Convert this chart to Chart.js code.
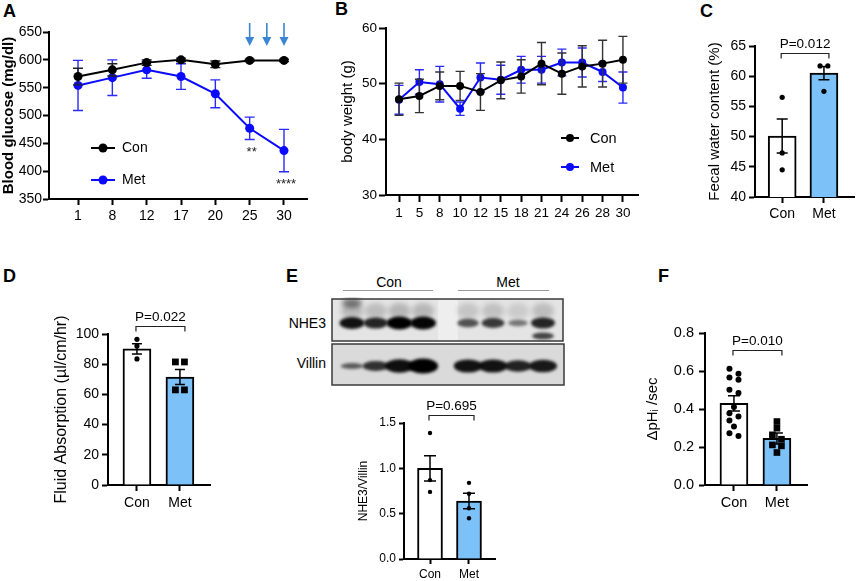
<!DOCTYPE html>
<html>
<head>
<meta charset="utf-8">
<script src="https://cdn.jsdelivr.net/npm/chart.js@4.4.0/dist/chart.umd.min.js"></script>
<style>
  html, body { margin: 0; padding: 0; background: #fff; }
  body { width: 858px; height: 581px; position: relative; overflow: hidden;
         font-family: 'Liberation Sans', Arial, sans-serif; color: #000; }
  .letter { position: absolute; font-weight: bold; font-size: 18px; line-height: 18px; }
  .txt { position: absolute; font-size: 14px; line-height: 16px; white-space: nowrap; }
  .rule { position: absolute; height: 0; border-top: 1.5px solid #9a9a9a; }
  #blot { position: absolute; left: 330px; top: 297px; }
</style>
</head>
<body>
<div class="letter" style="left:3px;top:2px">A</div>
<div class="letter" style="left:335px;top:0px">B</div>
<div class="letter" style="left:700px;top:2px">C</div>
<div class="letter" style="left:3px;top:267px">D</div>
<div class="letter" style="left:286px;top:267px">E</div>
<div class="letter" style="left:658px;top:267px">F</div>

<div class="txt" style="left:359px;top:274px;width:60px;text-align:center">Con</div>
<div class="rule" style="left:343px;top:290px;width:90px"></div>
<div class="txt" style="left:478px;top:274px;width:60px;text-align:center">Met</div>
<div class="rule" style="left:458px;top:290px;width:91px"></div>
<div class="txt" style="right:532px;top:315px">NHE3</div>
<div class="txt" style="right:532px;top:355px">Villin</div>
<canvas id="blot" width="236" height="92"></canvas>

<script>
// ── data ──────────────────────────────────────────────────────────────────────
// A: blood glucose
const glucoseDays   = ['1', '8', '12', '17', '20', '25', '30'];
const glucoseCon    = [570, 582, 595, 600, 592, 599, 599];
const glucoseConErr = [15, 11, 5, 3, 6, 2, 2];
const glucoseMet    = [554, 568, 582, 570, 539, 477, 437];
const glucoseMetErr = [45, 32, 15, 23, 25, 20, 38];
const glucoseStars  = ['', '', '', '', '', '**', '****'];
const metforminDays = [25, 27.5, 30];

// B: body weight
const weightDays   = ['1', '5', '8', '10', '12', '15', '18', '21', '24', '26', '28', '30'];
const weightCon    = [47.2, 47.8, 49.6, 49.6, 48.5, 50.6, 51.3, 53.6, 51.8, 53.1, 53.6, 54.3];
const weightConErr = [2.9, 3.0, 2.5, 2.6, 3.3, 3.3, 3.0, 3.8, 3.7, 3.7, 4.2, 4.2];
const weightMet    = [47.1, 50.3, 49.9, 45.5, 51.1, 50.7, 52.5, 52.5, 53.8, 53.8, 52.1, 49.3];
const weightMetErr = [2.6, 2.2, 3.2, 1.2, 2.6, 2.6, 2.4, 2.4, 2.4, 2.6, 1.7, 2.8];

const groups = ['Con', 'Met'];

// C: fecal water content
const fecalMean = [50.1, 60.5];
const fecalSem  = [2.8, 1.1];
const fecalCon  = [56.5, 47.3, 44.5];
const fecalMet  = [61.7, 61.7, 57.5];

// D: fluid absorption
const fluidMean = [90.2, 71.5];
const fluidSem  = [3.4, 5.0];
const fluidCon  = [96.5, 92.0, 83.5];
const fluidMet  = [81.5, 81.5, 63.0, 63.0];

// E: NHE3 / Villin
const nheMean = [1.0, 0.64];
const nheSem  = [0.14, 0.085];
const nheCon  = [1.39, 0.87, 0.74];
const nheMet  = [0.84, 0.72, 0.56, 0.45];
const nhe3Signal   = [0.88, 0.75, 1.0, 0.97, 0.45, 0.62, 0.2, 0.75];
const villinSignal = [0.25, 0.6, 0.88, 1.0, 0.85, 0.85, 0.72, 0.8];

// F: dpHi/sec
const phMean = [0.43, 0.245];
const phSem  = [0.04, 0.029];
const phCon  = [0.612, 0.586, 0.566, 0.554, 0.501, 0.484, 0.41, 0.378, 0.36, 0.34, 0.308, 0.273, 0.258];
const phMet  = [0.334, 0.299, 0.264, 0.241, 0.211, 0.206, 0.171];

const pValues = { fecal: 'P=0.012', fluid: 'P=0.022', nhe: 'P=0.695', ph: 'P=0.010' };

// ── setup ─────────────────────────────────────────────────────────────────────
const FONT = "'Liberation Sans', Arial, sans-serif";
const BLUE = '#0a0aff';
const BAR_FILL = ['#ffffff', '#7cc1f8'];
Chart.defaults.font.family = FONT;
Chart.defaults.color = '#000';
Chart.defaults.animation = false;
Chart.defaults.events = [];
Chart.defaults.plugins.legend.display = false;
Chart.defaults.plugins.tooltip.enabled = false;

// ── plugins ───────────────────────────────────────────────────────────────────
function drawErrors(chart, index, layer) {
  const ds = chart.data.datasets[index];
  if (!ds.errors || (ds.errorLayer || 'under') !== layer) return;
  const { ctx, scales: { y } } = chart;
  const meta = chart.getDatasetMeta(index);
  const cap = ds.errorCap ?? 5;
  ctx.save();
  ctx.strokeStyle = ds.errorColor || '#000';
  ctx.lineWidth = ds.errorWidth || 1.5;
  meta.data.forEach((el, i) => {
    const v = ds.data[i].y, e = ds.errors[i];
    const hi = y.getPixelForValue(v + e), lo = y.getPixelForValue(v - e);
    ctx.beginPath();
    ctx.moveTo(el.x, hi); ctx.lineTo(el.x, lo);
    ctx.moveTo(el.x - cap, hi); ctx.lineTo(el.x + cap, hi);
    ctx.moveTo(el.x - cap, lo); ctx.lineTo(el.x + cap, lo);
    ctx.stroke();
  });
  ctx.restore();
}

const errorBars = {
  id: 'errorBars',
  beforeDatasetDraw(chart, args) { drawErrors(chart, args.index, 'under'); },
  afterDatasetDraw(chart, args)  { drawErrors(chart, args.index, 'over'); },
};

const inlineLegend = {
  id: 'inlineLegend',
  afterDraw(chart, args, o) {
    if (!o || o.x == null) return;
    const { ctx, chartArea } = chart;
    ctx.save();
    chart.data.datasets.forEach((ds, i) => {
      const x = chartArea.left + o.x, y = chartArea.top + o.y + i * o.gap;
      ctx.strokeStyle = ds.borderColor; ctx.lineWidth = 2;
      ctx.beginPath(); ctx.moveTo(x, y); ctx.lineTo(x + o.len, y); ctx.stroke();
      ctx.fillStyle = ds.pointBackgroundColor;
      ctx.beginPath(); ctx.arc(x + o.len / 2, y, ds.pointRadius, 0, Math.PI * 2); ctx.fill();
      ctx.fillStyle = '#000';
      ctx.font = `${o.font}px ${FONT}`;
      ctx.textBaseline = 'middle';
      ctx.fillText(ds.label, x + o.len + o.textGap, y + 0.5);
    });
    ctx.restore();
  },
};

const pBracket = {
  id: 'pBracket',
  afterDraw(chart, args, o) {
    if (!o || !o.text) return;
    const { ctx, scales: { x, y } } = chart;
    const x0 = x.getPixelForValue(0) - 1, x1 = x.getPixelForValue(1) + 5;
    const yb = Math.round(y.getPixelForValue(o.at)) + 0.5;
    ctx.save();
    ctx.strokeStyle = '#222'; ctx.lineWidth = 1.2;
    ctx.beginPath();
    ctx.moveTo(x0, yb + 5); ctx.lineTo(x0, yb); ctx.lineTo(x1, yb); ctx.lineTo(x1, yb + 5);
    ctx.stroke();
    ctx.fillStyle = '#000';
    ctx.font = `${o.font}px ${FONT}`;
    ctx.textAlign = 'center'; ctx.textBaseline = 'alphabetic';
    ctx.fillText(o.text, (x0 + x1) / 2, yb - 6);
    ctx.restore();
  },
};

// day number -> position on the evenly spaced glucose axis
function dayToIndex(d) {
  const days = glucoseDays.map(Number);
  for (let i = 0; i < days.length - 1; i++) {
    if (d >= days[i] && d <= days[i + 1]) return i + (d - days[i]) / (days[i + 1] - days[i]);
  }
  return days.length - 1;
}

const glucoseMarks = {
  id: 'glucoseMarks',
  afterDraw(chart) {
    const { ctx, chartArea, scales: { x, y } } = chart;
    ctx.save();
    ctx.fillStyle = '#222';
    ctx.font = `13px ${FONT}`;
    ctx.textAlign = 'center'; ctx.textBaseline = 'top';
    glucoseStars.forEach((s, i) => {
      if (!s) return;
      ctx.fillText(s, x.getPixelForValue(i) + 2, y.getPixelForValue(glucoseMet[i] - glucoseMetErr[i]) + 6);
    });
    ctx.strokeStyle = '#3a86d4'; ctx.fillStyle = '#3a86d4'; ctx.lineWidth = 1.6;
    metforminDays.forEach(d => {
      const px = x.getPixelForValue(dayToIndex(d));
      const top = chartArea.top - 9, tip = chartArea.top + 14;
      ctx.beginPath(); ctx.moveTo(px, top); ctx.lineTo(px, tip - 6); ctx.stroke();
      ctx.beginPath(); ctx.moveTo(px - 4.5, tip - 9); ctx.lineTo(px + 4.5, tip - 9); ctx.lineTo(px, tip); ctx.closePath(); ctx.fill();
    });
    ctx.restore();
  },
};

// ── layout helpers ───────────────────────────────────────────────────────────
function mountCanvas(box) {
  const c = document.createElement('canvas');
  c.width = box.w; c.height = box.h;
  Object.assign(c.style, { position: 'absolute', left: box.l + 'px', top: box.t + 'px',
    width: box.w + 'px', height: box.h + 'px' });
  document.body.appendChild(c);
  return c;
}

// axes styled like the figure, sized so the plot frame lands where it is in the picture
function frameAxes(box, area, o) {
  const axisLine = { color: '#000', width: 2 };
  const y = {
    type: 'linear', min: o.yMin, max: o.yMax, beginAtZero: false,
    afterFit: s => { s.width = area.l - box.l; },
    border: axisLine,
    grid: { drawOnChartArea: false, tickLength: o.tick, tickWidth: 2, tickColor: '#000' },
    ticks: { stepSize: o.yStep, font: { size: o.tickFont }, padding: o.yPad, color: '#000',
             callback: o.yFmt || (v => v) },
    title: { display: true, text: o.title, color: '#000',
             font: { size: o.titleFont, weight: o.titleBold ? 'bold' : 'normal' },
             padding: { top: Math.max(0, o.titleCx - box.l - o.titleFont * 0.6), bottom: 0 } },
  };
  const x = {
    type: 'linear', min: o.xMin, max: o.xMax, offset: false,
    afterFit: s => { s.height = box.t + box.h - area.b; },
    afterBuildTicks: s => { s.ticks = o.xLabels.map((_, i) => ({ value: i })); },
    border: axisLine,
    grid: { drawOnChartArea: false, offset: false, tickLength: o.tick, tickWidth: 2, tickColor: '#000' },
    ticks: { font: { size: o.xFont || o.tickFont }, padding: o.xPad, color: '#000', autoSkip: false,
             maxRotation: 0, minRotation: 0, callback: v => o.xLabels[Math.round(v)] ?? '' },
  };
  const layout = { padding: { left: 0, top: area.t - box.t, right: box.l + box.w - area.r, bottom: 0 } };
  return { x, y, layout };
}

// spread points that would overlap side to side, as the scatter-on-bar plots do
function swarm(values, gx, thr, spread) {
  const sorted = values.slice().sort((a, b) => b - a);
  const out = [];
  let cluster = [];
  const flush = () => {
    cluster.forEach((v, k) => out.push({ x: gx + (cluster.length === 1 ? 0 : (k % 2 ? spread : -spread)), y: v }));
    cluster = [];
  };
  sorted.forEach(v => {
    if (cluster.length && cluster[cluster.length - 1] - v >= thr) flush();
    cluster.push(v);
  });
  flush();
  return out;
}

function linePanel(box, area, o, series) {
  const ax = frameAxes(box, area, o);
  const datasets = series.map(s => ({
    type: 'line', label: s.label,
    data: s.values.map((v, i) => ({ x: i, y: v })),
    borderColor: s.color, backgroundColor: s.color,
    pointBackgroundColor: s.color, pointBorderColor: s.color, pointBorderWidth: 0,
    pointRadius: o.dotR, borderWidth: 2, tension: 0,
    errors: s.errors, errorColor: s.errColor, errorCap: o.cap, errorWidth: 1.4, errorLayer: 'under',
  }));
  return new Chart(mountCanvas(box), {
    type: 'line',
    data: { datasets },
    options: { responsive: false, layout: ax.layout, scales: { x: ax.x, y: ax.y },
               plugins: { inlineLegend: o.legend } },
    plugins: [errorBars, inlineLegend].concat(o.extra || []),
  });
}

function barPanel(box, area, o) {
  const ax = frameAxes(box, area, o);
  const dots = o.points.map((vals, g) => ({
    type: 'scatter', order: 1,
    data: swarm(vals, g, o.thr, o.spread),
    pointStyle: o.dotStyle[g], pointRadius: o.dotR[g],
    pointBackgroundColor: '#000', pointBorderColor: '#000', pointBorderWidth: 0,
  }));
  const bars = {
    type: 'bar', order: 2,
    data: o.means.map((m, i) => ({ x: i, y: m })),
    backgroundColor: BAR_FILL, borderColor: '#000', borderWidth: 2, borderSkipped: 'start',
    barThickness: o.barPx,
    errors: o.sems, errorLayer: 'over', errorCap: o.cap, errorWidth: 1.5, errorColor: '#000',
  };
  return new Chart(mountCanvas(box), {
    type: 'bar',
    data: { datasets: [...dots, bars] },
    options: { responsive: false, layout: ax.layout, scales: { x: ax.x, y: ax.y },
               plugins: { pBracket: { text: o.pText, at: o.pAt, font: 13.5 } } },
    plugins: [errorBars, pBracket],
  });
}

// ── A ────────────────────────────────────────────────────────────────────────
linePanel({ l: 0, t: 0, w: 322, h: 232 }, { l: 49, t: 32, r: 307, b: 199 }, {
  yMin: 350, yMax: 650, yStep: 50, xMin: -0.845, xMax: 6.67, xLabels: glucoseDays,
  tick: 6, tickFont: 14, yPad: 1, xPad: 3,
  title: 'Blood glucose (mg/dl)', titleFont: 15, titleBold: true, titleCx: 9,
  dotR: 4.5, cap: 5,
  legend: { x: 42, y: 116, gap: 32, len: 24, textGap: 7, font: 14 },
  extra: [glucoseMarks],
}, [
  { label: 'Con', values: glucoseCon, errors: glucoseConErr, color: '#000', errColor: '#222' },
  { label: 'Met', values: glucoseMet, errors: glucoseMetErr, color: BLUE, errColor: '#2a2aff' },
]);

// ── B ────────────────────────────────────────────────────────────────────────
linePanel({ l: 322, t: 0, w: 325, h: 232 }, { l: 386, t: 28, r: 638, b: 195 }, {
  yMin: 30, yMax: 60, yStep: 10, xMin: -0.64, xMax: 11.74, xLabels: weightDays,
  tick: 7, tickFont: 13.5, yPad: 2, xPad: 3,
  title: 'body weight (g)', titleFont: 15, titleCx: 348,
  dotR: 4, cap: 4.5,
  legend: { x: 175, y: 110, gap: 29, len: 18, textGap: 11, font: 14.5 },
}, [
  { label: 'Con', values: weightCon, errors: weightConErr, color: '#000', errColor: '#333' },
  { label: 'Met', values: weightMet, errors: weightMetErr, color: BLUE, errColor: '#2a2aff' },
]);

// ── C ────────────────────────────────────────────────────────────────────────
barPanel({ l: 700, t: 0, w: 158, h: 232 }, { l: 755, t: 46, r: 857, b: 197 }, {
  yMin: 40, yMax: 65, yStep: 5, xMin: -0.651, xMax: 1.72, xLabels: groups,
  tick: 6, tickFont: 14, yPad: 3, xPad: 3,
  title: 'Fecal water content (%)', titleFont: 15, titleCx: 715,
  means: fecalMean, sems: fecalSem, points: [fecalCon, fecalMet],
  dotStyle: ['circle', 'circle'], dotR: [2.6, 2.6], thr: 1.0, spread: 0.093,
  barPx: 28, cap: 5.5, pText: pValues.fecal, pAt: 63.8,
});

// ── D ────────────────────────────────────────────────────────────────────────
barPanel({ l: 45, t: 290, w: 180, h: 225 }, { l: 108, t: 334, r: 210, b: 485 }, {
  yMin: 0, yMax: 100, yStep: 20, xMin: -0.674, xMax: 1.70, xLabels: groups,
  tick: 6, tickFont: 14, yPad: 3, xPad: 4,
  title: 'Fluid Absorption (µl/cm/hr)', titleFont: 16, titleCx: 62,
  means: fluidMean, sems: fluidSem, points: [fluidCon, fluidMet],
  dotStyle: ['circle', 'rect'], dotR: [2.6, 4.8], thr: 3.5, spread: 0.105,
  barPx: 28, cap: 5, pText: pValues.fluid, pAt: 105.3,
});

// ── E (quantification) ───────────────────────────────────────────────────────
barPanel({ l: 355, t: 395, w: 150, h: 186 }, { l: 404, t: 423, r: 495, b: 559 }, {
  yMin: 0, yMax: 1.5, yStep: 0.5, yFmt: v => v.toFixed(1), xMin: -0.667, xMax: 1.667, xLabels: groups,
  tick: 5, tickFont: 12, yPad: 3, xPad: 3,
  title: 'NHE3/Villin', titleFont: 12, titleCx: 364,
  means: nheMean, sems: nheSem, points: [nheCon, nheMet],
  dotStyle: ['circle', 'circle'], dotR: [2.2, 2.2], thr: 0.03, spread: 0.1,
  barPx: 25, cap: 6, pText: pValues.nhe, pAt: 1.59,
});

// ── F ────────────────────────────────────────────────────────────────────────
barPanel({ l: 640, t: 295, w: 180, h: 230 }, { l: 705, t: 333, r: 807, b: 485 }, {
  yMin: 0, yMax: 0.8, yStep: 0.2, yFmt: v => v.toFixed(1), xMin: -0.674, xMax: 1.70, xLabels: groups,
  tick: 6, tickFont: 14.5, yPad: 5, xPad: 3,
  title: 'ΔpHᵢ /sec', titleFont: 15, titleCx: 653,
  means: phMean, sems: phSem, points: [phCon, phMet],
  dotStyle: ['circle', 'rect'], dotR: [3, 4.7], thr: 0.03, spread: 0.105,
  barPx: 28, cap: 6, pText: pValues.ph, pAt: 0.7105,
});

// ── E (western blot picture) ─────────────────────────────────────────────────
(function drawBlot() {
  const g = document.getElementById('blot').getContext('2d');
  const laneX = i => i < 4 ? 22 + i * 23.7 : 138 + (i - 4) * 25;

  // NHE3 strip
  g.fillStyle = '#e4e4e4'; g.fillRect(2, 2, 231, 42);
  g.fillStyle = '#eeeeee'; g.fillRect(108, 2, 20, 42);
  g.save();
  g.filter = 'blur(2.5px)';
  nhe3Signal.forEach((s, i) => {
    const x = laneX(i);
    g.fillStyle = `rgba(0,0,0,${0.08 + 0.12 * s})`;
    g.beginPath(); g.ellipse(x, 14, 11, 8, 0, 0, Math.PI * 2); g.fill();
  });
  g.fillStyle = 'rgba(0,0,0,0.45)';
  g.beginPath(); g.ellipse(laneX(0), 6, 10, 5, 0, 0, Math.PI * 2); g.fill();
  g.restore();
  g.save();
  g.filter = 'blur(1.6px)';
  nhe3Signal.forEach((s, i) => {
    const x = laneX(i);
    g.fillStyle = `rgba(0,0,0,${0.35 + 0.65 * s})`;
    g.beginPath(); g.ellipse(x, 26, 9 + 4 * s, 2.5 + 4 * s, 0, 0, Math.PI * 2); g.fill();
  });
  g.fillStyle = 'rgba(0,0,0,0.7)';
  g.beginPath(); g.ellipse(laneX(7), 39, 11, 3.5, 0, 0, Math.PI * 2); g.fill();
  g.restore();

  // Villin strip
  g.fillStyle = '#dadada'; g.fillRect(2, 47, 232, 41);
  g.save();
  g.filter = 'blur(1.5px)';
  villinSignal.forEach((s, i) => {
    const x = laneX(i);
    g.fillStyle = `rgba(0,0,0,${0.45 + 0.55 * s})`;
    g.beginPath(); g.ellipse(x, 69, 10 + 5 * s, 1.5 + 6 * s, 0, 0, Math.PI * 2); g.fill();
  });
  g.restore();

  g.strokeStyle = '#3a3a3a'; g.lineWidth = 1.5;
  g.strokeRect(2, 2, 231, 42);
  g.strokeRect(2, 47, 232, 41);
})();
</script>
</body>
</html>
